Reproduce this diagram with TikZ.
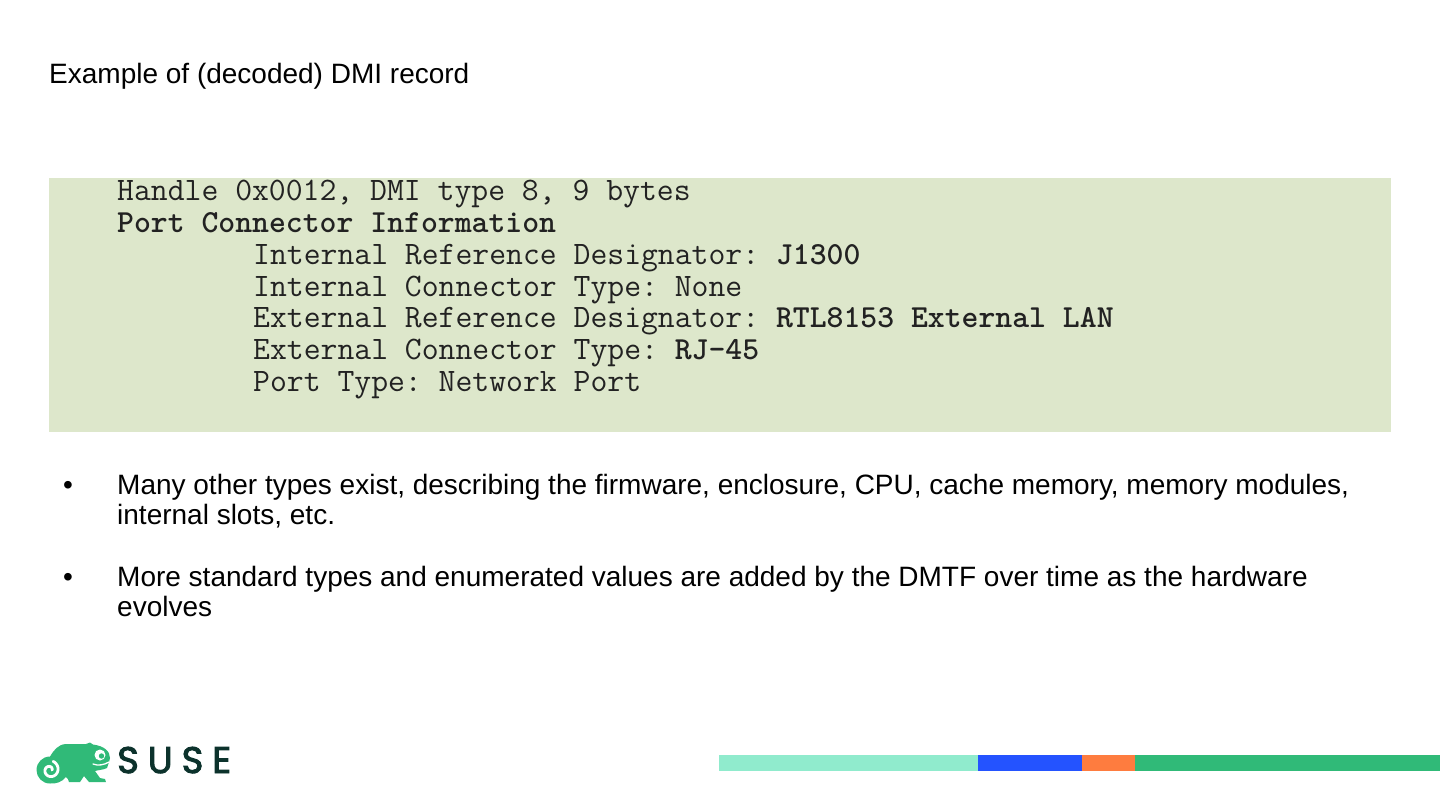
\documentclass[tikz,border=0pt]{standalone}
\usepackage{fontspec}
\usepackage{xcolor}
\setmainfont{Liberation Sans}
\newfontfamily\susefont{Poppins}[FakeBold=2.6]
\newcommand\codebf[1]{{\fontsize{32.15}{34}\selectfont\bfseries #1}}

\definecolor{codebg}{HTML}{DDE7CB}
\definecolor{codetext}{HTML}{222222}
\definecolor{jungle}{HTML}{30BA78}
\definecolor{pine}{HTML}{0C322C}
\definecolor{mint}{HTML}{90EBCD}
\definecolor{waterhole}{HTML}{2453FF}
\definecolor{persimmon}{HTML}{FE7C3F}

\begin{document}
\begin{tikzpicture}[x=1pt, y=-1pt,
    slidetext/.style={anchor=base west, inner sep=0pt, font=\fontsize{28}{32}\selectfont},
    codeline/.style={anchor=base west, inner sep=0pt, text=codetext, font=\ttfamily\frenchspacing\fontsize{32.75}{34}\selectfont},
    barpart/.style={fill=#1, draw=none}]
    \useasboundingbox (0,0) rectangle (1440,810);
    \def\DY{31.67}
    \def\Ytop{201}

    % title
    \node[slidetext] (title) at (49,83.5) {Example of (decoded) DMI record};

    % decoded record
    \fill[codebg] (49,178) rectangle (1391,432);
    \node[codeline] (handle) at (117,\Ytop) {Handle 0x0012, DMI type 8, 9 bytes};
    \node[codeline] (porthead) at (117,\Ytop+\DY) {\codebf{Port Connector Information}};
    \foreach \txt [count=\i from 2] in {%
        {Internal Reference Designator: \codebf{J1300}},
        {Internal Connector Type: None},
        {External Reference Designator: \codebf{RTL8153 External LAN}},
        {External Connector Type: \codebf{RJ-45}},
        {Port Type: Network Port}} {
      \node[codeline] (field\i) at (253,\Ytop+\i*\DY) {\txt};
    }

    % bullets
    \node[slidetext] (dotA) at (63,494) {•};
    \node[slidetext] (itemA) at (117,494) {Many other types exist, describing the firmware, enclosure, CPU, cache memory, memory modules,};
    \node[slidetext] (itemAb) at (117,524.5) {internal slots, etc.};
    \node[slidetext] (dotB) at (63,586.5) {•};
    \node[slidetext] (itemB) at (117,586.5) {More standard types and enumerated values are added by the DMTF over time as the hardware};
    \node[slidetext] (itemBb) at (117,616) {evolves};

    % logo
    \fill[jungle] (36.5,770) arc[start angle=180, end angle=270, radius=13.5]
      .. controls (54,750) and (58,744.5) .. (66,744) -- (86,744) -- (90,742.5) -- (93,744.5)
      .. controls (104,746) and (110,751) .. (110,758)
      -- (109,762) -- (107,768) .. controls (103,770) and (98,770) .. (95,771)
      -- (100,778) -- (105,779) -- (106,782) -- (89,782) -- (84,776) -- (80,782)
      -- (69,782) -- (68,779) -- (66,777) .. controls (62,782) and (56,784) .. (50,783.5)
      .. controls (42,783.5) and (36.5,777) .. (36.5,770) -- cycle;
    \draw[white, line width=2.8pt, line cap=round]
      plot[domain=0:-430, samples=60] ({50+(2+abs(\x)/60)*cos(\x)}, {770+(2+abs(\x)/60)*sin(\x)});
    \fill[white] (100,755) circle (5.5);
    \fill[jungle] (101.5,756) circle (2.7);
    \draw[white, line width=1.3pt, line cap=round] (93,764) .. controls (98,766) and (104,765) .. (109,762);
    \node[anchor=base west, inner sep=0pt, text=pine,
      font=\susefont\fontsize{37}{40}\selectfont\addfontfeature{LetterSpace=24}] (suse) at (117,773) {SUSE};

    % colour bar
    \fill[barpart=mint] (719,755) rectangle (978,771);
    \fill[barpart=waterhole] (978,755) rectangle (1082,771);
    \fill[barpart=persimmon] (1082,755) rectangle (1135,771);
    \fill[barpart=jungle] (1135,755) rectangle (1440,771);
  \end{tikzpicture}
\end{document}
